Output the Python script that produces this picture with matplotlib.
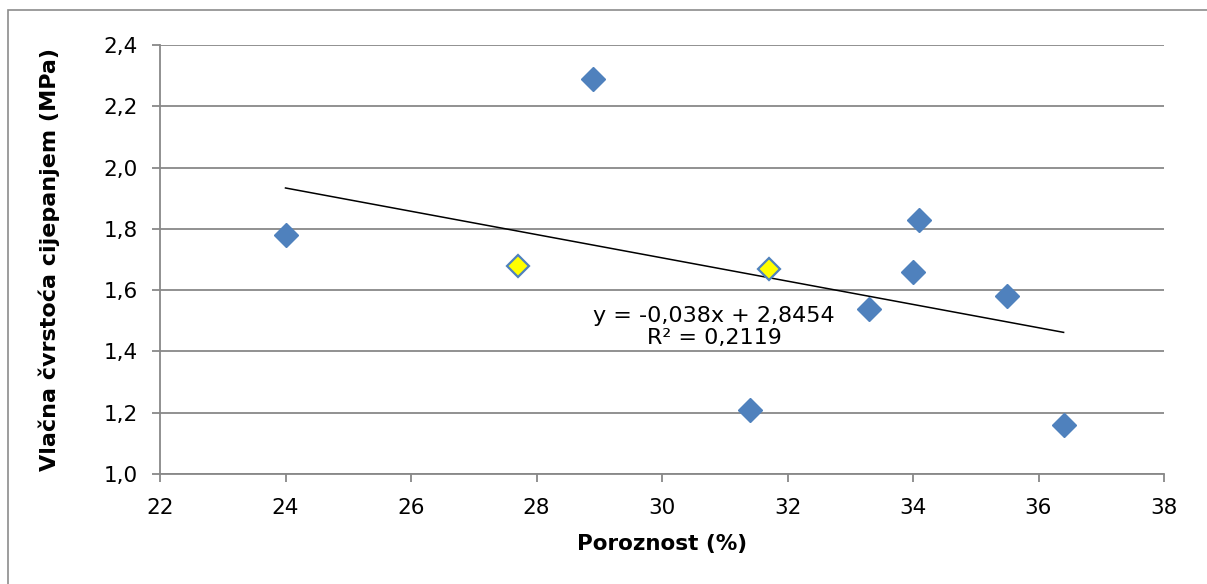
import numpy as np
import matplotlib.pyplot as plt
from matplotlib.patches import Rectangle

plt.rcParams['font.family'] = ['DejaVu Sans']

# measured samples
poroznost = [24.0, 28.9, 31.4, 33.3, 34.0, 34.1, 35.5, 36.4]
cvrstoca = [1.78, 2.29, 1.21, 1.54, 1.66, 1.83, 1.58, 1.16]

# highlighted samples (yellow)
poroznost_hl = [27.7, 31.7]
cvrstoca_hl = [1.68, 1.67]

# linear trend as reported
slope = -0.038
intercept = 2.8454
r2 = 0.2119
trend_x = [24.0, 36.4]

x_ticks = [22, 24, 26, 28, 30, 32, 34, 36, 38]
y_ticks = [1.0, 1.2, 1.4, 1.6, 1.8, 2.0, 2.2, 2.4]

grey = '#888888'
blue = '#4F81BD'

fig = plt.figure(figsize=(12.07, 5.84), dpi=100)
fig.patches.append(Rectangle((8 / 1207, -0.1), 1.2, 1 - 10 / 584 + 0.1,
                             transform=fig.transFigure, fill=False,
                             edgecolor='#8c8c8c', linewidth=1.2))
ax = fig.add_axes([160 / 1207, 1 - 474 / 584, (1164 - 160) / 1207, (474 - 45) / 584])

ax.set_xlim(22, 38)
ax.set_ylim(1.0, 2.4)
ax.set_xticks(x_ticks)
ax.set_yticks(y_ticks)
ax.set_xticklabels([str(t) for t in x_ticks])
ax.set_yticklabels([f"{t:.1f}".replace('.', ',') for t in y_ticks])
ax.grid(axis='y', color=grey, linewidth=1.3)
ax.set_axisbelow(True)
for side in ['top', 'right']:
    ax.spines[side].set_visible(False)
for side in ['left', 'bottom']:
    ax.spines[side].set_color(grey)
    ax.spines[side].set_linewidth(1.3)
ax.tick_params(axis='both', direction='out', length=6, width=1.3, color=grey,
               labelsize=15.5)
ax.tick_params(axis='y', pad=10)
ax.tick_params(axis='x', pad=11)

tx = np.array(trend_x)
ax.plot(tx, slope * tx + intercept, color='black', linewidth=1.1, zorder=2)

ax.plot(poroznost, cvrstoca, linestyle='none', marker='D', markersize=12,
        markerfacecolor=blue, markeredgecolor=blue, markeredgewidth=1, zorder=3)
ax.plot(poroznost_hl, cvrstoca_hl, linestyle='none', marker='D', markersize=11,
        markerfacecolor='#FFFF00', markeredgecolor=blue, markeredgewidth=1.6, zorder=3)

eq = f"y = {slope:.3f}x + {intercept:.4f}".replace('.', ',')
r2_txt = f"R² = {r2:.4f}".replace('.', ',')
ax.text(30.83, 1.48, eq + "\n" + r2_txt, ha='center', va='center', fontsize=16,
        linespacing=1.15)

ax.set_xlabel('Poroznost (%)', fontsize=15.5, fontweight='bold', labelpad=12)
ax.set_ylabel('Vlačna čvrstoća cijepanjem (MPa)', fontsize=16, fontweight='bold')
ax.yaxis.set_label_coords(-100 / 1004, 0.5)

fig.savefig('out.png', dpi=100)
